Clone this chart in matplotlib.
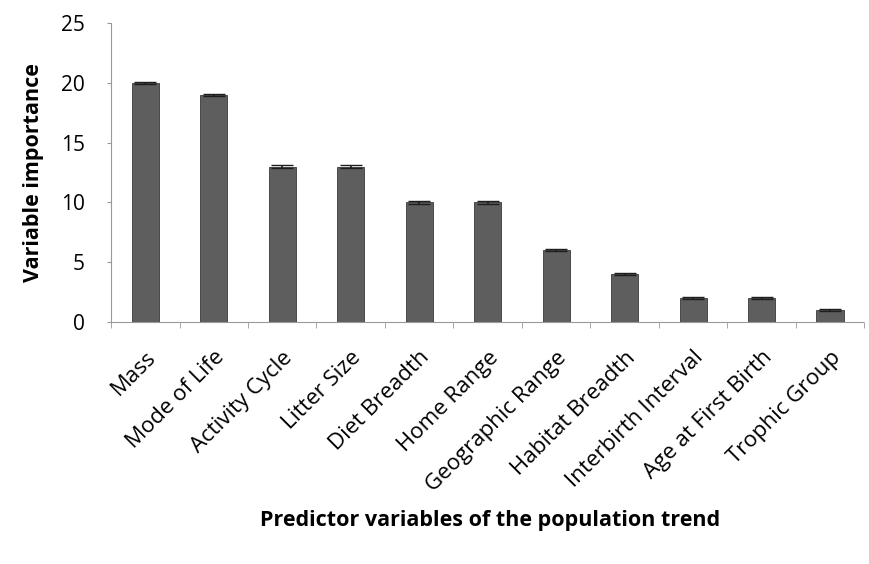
import numpy as np
import matplotlib.pyplot as plt
import matplotlib.transforms as mtransforms
from matplotlib.ticker import FixedLocator

predictors = ["Mass", "Mode of Life", "Activity Cycle", "Litter Size", "Diet Breadth",
              "Home Range", "Geographic Range", "Habitat Breadth", "Interbirth Interval",
              "Age at First Birth", "Trophic Group"]
importance = [20, 19, 13, 13, 10, 10, 6, 4, 2, 2, 1]
err = [0.1, 0.1, 0.1, 0.1, 0.1, 0.1, 0.1, 0.1, 0.1, 0.1, 0.1]

plt.rcParams['font.family'] = ['Open Sans', 'DejaVu Sans']

fig = plt.figure(figsize=(8.7, 5.64), dpi=100)
ax = fig.add_axes([0.1276, 0.429, 0.866, 0.53])

x = np.arange(len(predictors))
ax.bar(x, importance, width=0.4, color='#5e5e5e', edgecolor='#3a3a3a', linewidth=0.6)
ax.errorbar(x, importance, yerr=err, fmt='none', ecolor='#1e1e1e', capsize=8, elinewidth=1.2)

ax.set_xlim(-0.5, len(predictors) - 0.5)
ax.set_ylim(0, 25)
ax.set_yticks([0, 5, 10, 15, 20, 25])

ax.set_xticks(x)
ax.set_xticklabels(predictors, rotation=45, ha='right', rotation_mode='anchor', fontsize=16)
# nudge the slanted labels a little to the right, as in the original
shift = mtransforms.ScaledTranslation(8 / 72, 0, fig.dpi_scale_trans)
for lbl in ax.get_xticklabels():
    lbl.set_transform(lbl.get_transform() + shift)
ax.tick_params(axis='x', which='major', length=0, pad=18)
ax.xaxis.set_minor_locator(FixedLocator(np.arange(-0.5, len(predictors), 1.0)))
ax.tick_params(axis='x', which='minor', length=4, color='#999999')
ax.tick_params(axis='y', labelsize=15, length=3, color='#999999', pad=16)

for s in ['top', 'right']:
    ax.spines[s].set_visible(False)
for s in ['left', 'bottom']:
    ax.spines[s].set_color('#999999')
    ax.spines[s].set_linestyle((0, (2, 1)))
    ax.spines[s].set_linewidth(0.8)

ax.set_ylabel("Variable importance", fontsize=15.5, fontweight='bold', labelpad=12)
fig.text(0.563, 0.078, "Predictor variables of the population trend",
         ha='center', va='center', fontsize=15.5, fontweight='bold')

fig.savefig("out.png", dpi=100)
